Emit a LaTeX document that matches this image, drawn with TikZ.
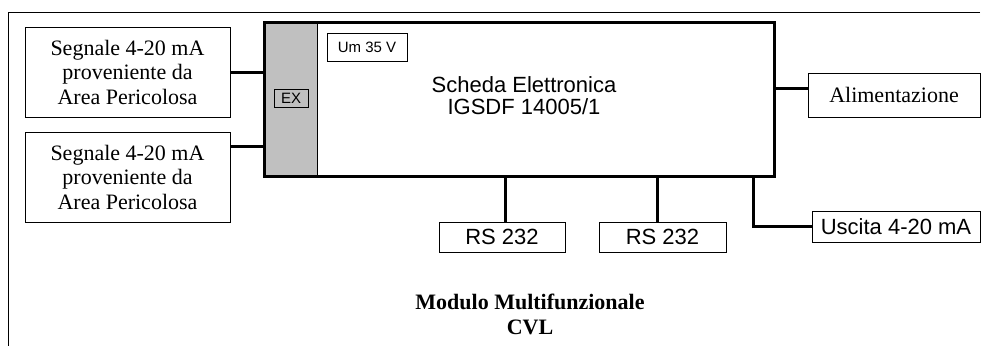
\documentclass[tikz,border=0pt]{standalone}
\usepackage{fontspec}
\usetikzlibrary{calc}
\setmainfont{Liberation Serif}
\setsansfont{Liberation Sans}
\definecolor{exgray}{RGB}{192,192,192}
\begin{document}
\begin{tikzpicture}[x=1pt,y=-1pt,
  thinbox/.style={draw,line width=1pt,rectangle,inner sep=0pt,align=center},
  serifbox/.style={thinbox,font=\fontsize{22}{24.5}\selectfont},
  sansbox/.style={thinbox,font=\sffamily\fontsize{22}{22}\selectfont},
  smallbox/.style={thinbox,font=\sffamily\fontsize{15}{15}\selectfont},
  wire/.style={line width=3pt}]
\useasboundingbox (0,0) rectangle (981,346);
% frame
\coordinate (ftl) at (8.5,12.5);
\coordinate (ftr) at (980,12.5);
\coordinate (fbl) at (8.5,346);
\draw[line width=1pt] (ftr) -- (ftl) -- (fbl);
% main board
\node[rectangle,inner sep=0pt,minimum width=509.3pt,minimum height=154pt] (main) at (519.15,99.7) {};
\fill[exgray] (main.north west) rectangle ($(main.south west)+(53.5,0)$);
\draw[line width=1pt] ($(main.north west)+(53.5,0)$) coordinate (sepT) -- (sepT |- main.south);
\draw[line width=3pt] (main.north west) rectangle (main.south east);
\node[font=\sffamily\fontsize{22}{22}\selectfont,align=center] (title) at (524,96) {Scheda Elettronica\\IGSDF 14005/1};
\node[smallbox,minimum width=34pt,minimum height=18pt] (ex) at (291,98) {EX};
\node[smallbox,minimum width=80pt,minimum height=28pt] (um) at (367,47) {Um 35 V};
% left inputs
\node[serifbox,minimum width=205pt,minimum height=90pt] (in1) at (127.5,72) {Segnale 4-20 mA\\proveniente da\\Area Pericolosa};
\node[serifbox,minimum width=205pt,minimum height=90pt] (in2) at (127.5,177.3) {Segnale 4-20 mA\\proveniente da\\Area Pericolosa};
% right
\node[serifbox,minimum width=172pt,minimum height=44pt] (alim) at (894,95) {Alimentazione};
\node[sansbox,minimum width=168pt,minimum height=31pt] (usc) at (896,226.5) {Uscita 4-20 mA};
% bottom
\node[sansbox,minimum width=126pt,minimum height=30pt] (rs1) at (502,237) {RS 232};
\node[sansbox,minimum width=127pt,minimum height=30pt] (rs2) at (662.5,237) {RS 232};
% caption
\node[font=\bfseries\fontsize{22}{25}\selectfont,align=center] (cap) at (530,314.5) {Modulo Multifunzionale\\CVL};
% wires
\draw[wire] (in1.east) -- (in1.east -| main.west);
\coordinate (in2c) at ([yshift=-15pt]in2.north east);
\draw[wire] (in2c) -- (in2c -| main.west);
\coordinate (alc) at ([yshift=7pt]alim.west);
\draw[wire] (alc -| main.east) -- (alc);
\coordinate (r1c) at ([xshift=3pt]rs1.north);
\draw[wire] (r1c |- main.south) -- (r1c);
\coordinate (r2c) at ([xshift=-5.5pt]rs2.north);
\draw[wire] (r2c |- main.south) -- (r2c);
\coordinate (uc) at (753,0);
\draw[wire] (uc |- main.south) -- (uc |- usc.west) -- (usc.west);
\end{tikzpicture}
\end{document}
